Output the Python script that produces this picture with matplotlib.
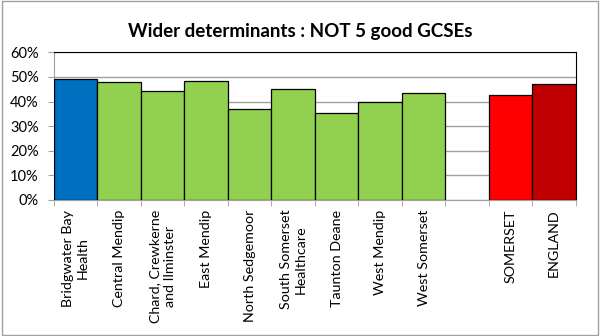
import matplotlib.pyplot as plt
import numpy as np
from matplotlib.patches import Rectangle
from matplotlib.ticker import PercentFormatter

# Dati
categorie = ["Bridgwater Bay\nHealth", "Central Mendip", "Chard, Crewkerne\nand Ilminster",
             "East Mendip", "North Sedgemoor", "South Somerset\nHealthcare", "Taunton Deane",
             "West Mendip", "West Somerset", "", "SOMERSET", "ENGLAND"]
valori = [49.3, 48.1, 44.3, 48.4, 36.9, 44.9, 35.4, 40.0, 43.6, np.nan, 42.7, 47.0]
colori = ["#0070C0"] + ["#92D050"] * 8 + ["white", "#FF0000", "#C00000"]

plt.rcParams['font.family'] = ['Lato', 'DejaVu Sans']

fig = plt.figure(figsize=(6, 3.36), dpi=100)
ax = fig.add_axes([0.09, 0.4048, 0.8695, 0.4395])

x = np.arange(len(categorie))
ax.bar(x, valori, width=1.0, color=colori, edgecolor="black", linewidth=0.9, zorder=3)

ax.set_xlim(-0.5, len(categorie) - 0.5)
ax.set_ylim(0, 60)
ax.set_yticks(np.arange(0, 61, 10))
ax.yaxis.set_major_formatter(PercentFormatter(decimals=0))
ax.grid(axis="y", color="#a0a0a0", linewidth=1, zorder=0)

ax.set_xticks(x)
ax.set_xticklabels(categorie, rotation=90, fontsize=10.3, ha="center", va="top",
                   multialignment="center", linespacing=1.25)
ax.set_xticks(np.arange(-0.5, len(categorie), 1), minor=True)
ax.tick_params(axis="x", which="major", length=0, pad=7)
ax.tick_params(axis="x", which="minor", length=4, color="#a0a0a0", direction="out")
ax.tick_params(axis="y", length=4, color="#a0a0a0", labelsize=10.5, pad=7)

ax.spines["left"].set_color("#a0a0a0")
ax.spines["bottom"].set_color("#a0a0a0")
ax.spines["top"].set_color("black")
ax.spines["right"].set_color("black")

fig.text(0.5, 0.905, "Wider determinants : NOT 5 good GCSEs", ha="center", va="center",
         fontsize=13.5, fontweight="bold")

fig.patches.append(Rectangle((0.003, 0.004), 0.994, 0.992, transform=fig.transFigure,
                             fill=False, edgecolor="#a0a0a0", linewidth=1))

fig.savefig("out.png", dpi=100)
